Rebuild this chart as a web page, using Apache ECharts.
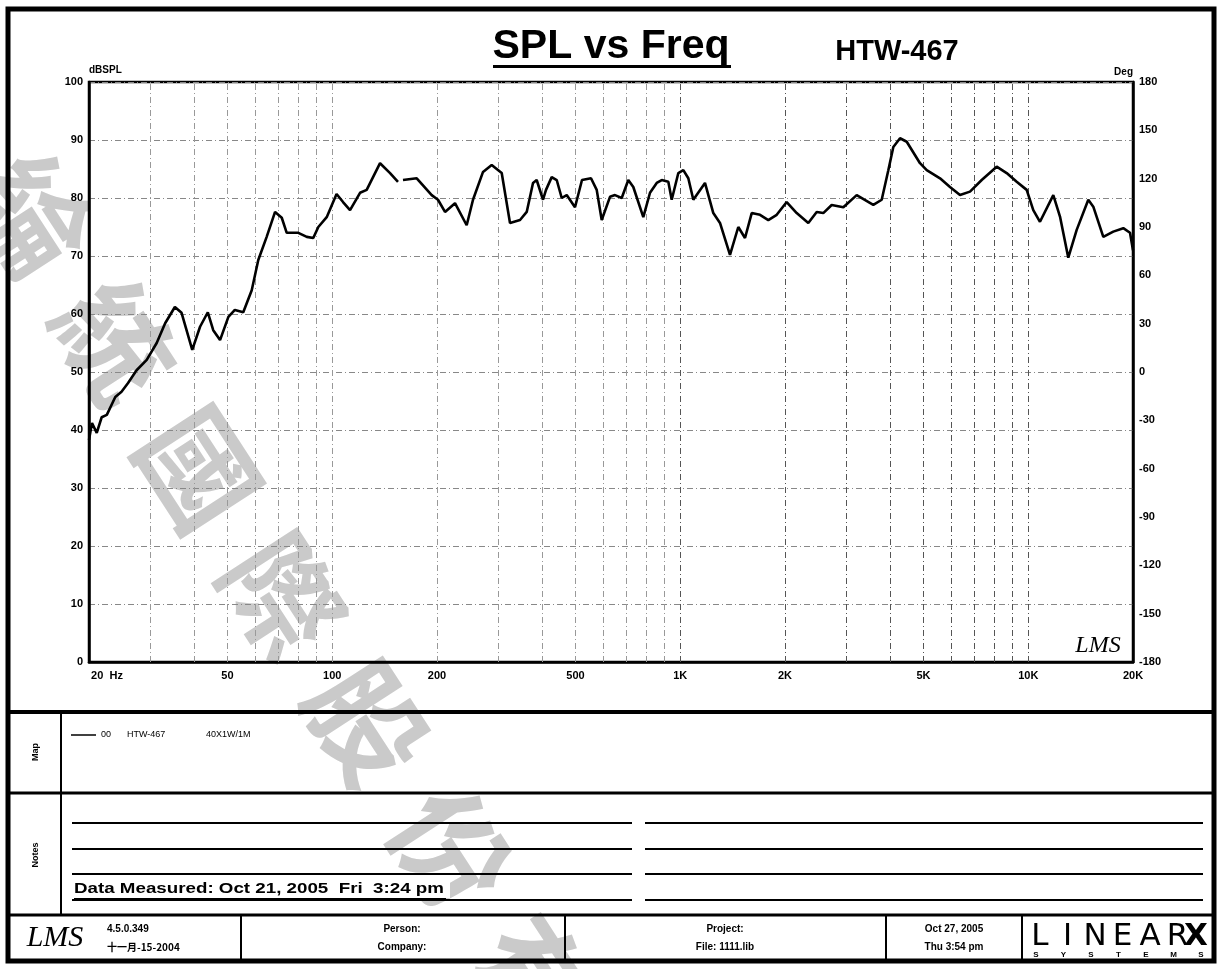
<!DOCTYPE html>
<html><head><meta charset="utf-8">
<script src="https://cdn.jsdelivr.net/npm/echarts@6/dist/echarts.min.js"></script>
<style>html,body{margin:0;padding:0;background:#fff}#c{width:1221px;height:969px}</style>
</head><body><div id="c"></div>
<script>
// ---- data ----
const freqHz = [20, 20.4, 21.05, 21.75, 22.5, 23.8, 24.8, 25.9, 27.4, 29.3,
  31.3, 33.1, 35.3, 36.9, 39.6, 41.7, 43.9, 45.5, 47.6, 50.3,
  52.5, 55.5, 58.7, 61.3, 64.8, 68.5, 71.6, 74.0, 79.9, 84.5,
  88.2, 91.2, 96.4, 102.9, 107.4, 112.5, 120.2, 125.6, 137.2, 146.6,
  154.5, 157, 159.7, 174.9, 193.1, 201.3, 210.9, 225.3, 243.4, 253.8,
  271.2, 287.2, 306.9, 324.2, 346.4, 362.1, 377.5, 386.8, 403.3, 411.4,
  427.2, 441.6, 456.5, 471.8, 498.4, 522, 554.1, 575.4, 594.7, 628.3,
  649.4, 678.9, 709.2, 733, 783.2, 818.7, 855.9, 884.7, 924.1, 945.2,
  987.4, 1020.6, 1054.9, 1090.4, 1177.9, 1244.5, 1300.9, 1389.9, 1468.3, 1535,
  1604.6, 1695.2, 1790.8, 1893.2, 2022.6, 2161, 2333.4, 2466.6, 2576.6, 2723.8,
  2942.2, 3213.8, 3587.6, 3792.6, 3962.2, 4095.6, 4281.4, 4475.4, 4886.4, 5108,
  5577.6, 5958.6, 6366, 6801.4, 7349.8, 8115.2, 8670.2, 9263.6, 9897.8, 10339.6,
  10808, 11803, 12338, 13034, 13779, 14879, 15379, 16431, 17555, 18755,
  19607, 20000];
const splDb = [38.3, 41.2, 39.5, 42.2, 42.6, 45.7, 46.6, 48.1, 50.3, 52.1,
  55.0, 58.4, 61.2, 60.2, 53.8, 57.8, 60.3, 57.2, 55.5, 59.5,
  60.7, 60.3, 64.1, 69.3, 73.3, 77.6, 76.6, 74.0, 74.0, 73.3,
  73.1, 75.0, 76.7, 80.7, 79.3, 77.9, 80.9, 81.4, 86.0, 84.3,
  82.8, null, 83.1, 83.4, 80.5, 79.7, 77.6, 79.1, 75.3, 79.7,
  84.5, 85.7, 84.3, 75.7, 76.2, 77.6, 82.6, 83.1, 79.7, 81.4,
  83.6, 83.1, 80.0, 80.5, 78.4, 83.1, 83.4, 81.4, 76.2, 80.2,
  80.5, 80.0, 83.1, 81.9, 76.7, 80.9, 82.6, 83.1, 82.8, 79.7,
  84.3, 84.8, 83.4, 79.7, 82.6, 77.4, 75.7, 70.2, 75.0, 73.1,
  77.4, 77.1, 76.2, 77.1, 79.3, 77.4, 75.7, 77.6, 77.4, 78.8,
  78.4, 80.5, 78.8, 79.7, 84.8, 88.8, 90.3, 89.7, 86.0, 84.8,
  83.4, 81.9, 80.5, 81.1, 83.1, 85.4, 84.3, 82.8, 81.4, 77.9,
  75.9, 80.5, 76.8, 69.7, 74.5, 79.7, 78.5, 73.3, 74.2, 74.8,
  74.0, 71.0];
const xTickValues = [20, 50, 100, 200, 500, 1000, 2000, 5000, 10000, 20000];
const xTickLabels = ['20 Hz', '50', '100', '200', '500', '1K', '2K', '5K', '10K', '20K'];
const xGridValues = [30, 40, 50, 60, 70, 80, 90, 100, 200, 300, 400, 500, 600, 700, 800, 900,
  1000, 2000, 3000, 4000, 5000, 6000, 7000, 8000, 9000, 10000];
const splMin = 0, splMax = 100, splStep = 10;
const degMin = -180, degMax = 180, degStep = 30;
const watermarkChars = ['綸', '統', '國', '際', '股', '份', '有', '限', '公', '司'];

// ---- rendering ----
const FONT = "'Liberation Sans', Arial, sans-serif";
const chart = echarts.init(document.getElementById('c'), null, { renderer: 'canvas' });

function fmtX(v) {
  let best = 0, bd = Infinity;
  xTickValues.forEach((t, i) => { const d = Math.abs(Math.log10(v) - Math.log10(t)); if (d < bd) { bd = d; best = i; } });
  const s = xTickLabels[best];
  return best === 0 ? '{p| }' + '20  Hz' : s;
}

const G = [];
function ln(x1, y1, x2, y2, w) {
  G.push({ type: 'line', silent: true, z: 20, shape: { x1, y1, x2, y2 }, style: { stroke: '#000', lineWidth: w } });
}
function tx(x, y, str, size, opts) {
  G.push(Object.assign({ type: 'text', silent: true, z: 20, x, y,
    style: Object.assign({ text: str, fill: '#000', fontSize: size, fontFamily: FONT, fontWeight: 'bold',
      textAlign: 'left', textVerticalAlign: 'middle' }, (opts && opts.style) || {}) }, (opts && opts.el) || {}));
}

// watermark (diagonal text, rotated clockwise)
watermarkChars.forEach((ch, i) => {
  G.push({ type: 'text', silent: true, z: -10, x: 31 + i * 84, y: 215 + i * 127, rotation: -57 * Math.PI / 180,
    style: { text: ch, fill: '#cacaca', fontSize: 115, fontWeight: 'bold', fontFamily: "'Noto Sans CJK TC', sans-serif",
      textAlign: 'center', textVerticalAlign: 'middle' } });
});

// frame
G.push({ type: 'rect', silent: true, z: 20, shape: { x: 8, y: 9, width: 1206, height: 952 }, style: { fill: 'none', stroke: '#000', lineWidth: 5 } });
ln(8, 712, 1214, 712, 4);
ln(8, 793, 1214, 793, 3);
ln(8, 915, 1214, 915, 3);
ln(61, 712, 61, 915, 2);
[241, 565, 886, 1022].forEach(x => ln(x, 915, x, 961, 2));

// titles
tx(611, 47, 'SPL vs Freq', 41, { style: { textAlign: 'center' } });
G.push({ type: 'rect', silent: true, z: 20, shape: { x: 493, y: 65, width: 238, height: 3 }, style: { fill: '#000' } });
tx(897, 52, 'HTW-467', 29, { style: { textAlign: 'center' } });

// plot corner logo
tx(1098, 646, 'LMS', 24, { style: { textAlign: 'center', fontStyle: 'italic', fontWeight: 'normal', fontFamily: "'Liberation Serif', serif" } });

// map panel
tx(36, 752, 'Map', 9, { el: { rotation: Math.PI / 2 }, style: { textAlign: 'center' } });
ln(71, 735, 96, 735, 1.5);
tx(101, 735, '00', 9, { style: { fontWeight: 'normal' } });
tx(127, 735, 'HTW-467', 9, { style: { fontWeight: 'normal' } });
tx(206, 735, '40X1W/1M', 9, { style: { fontWeight: 'normal' } });

// notes panel
tx(36, 855, 'Notes', 9, { el: { rotation: Math.PI / 2 }, style: { textAlign: 'center' } });
[823, 849, 874, 900].forEach(y => { ln(72, y, 632, y, 2); ln(645, y, 1203, y, 2); });
G.push({ type: 'rect', silent: true, z: 21, shape: { x: 70, y: 880, width: 380, height: 18 }, style: { fill: '#fff' } });
tx(74, 889, 'Data Measured: Oct 21, 2005  Fri  3:24 pm', 15, { el: { z: 22, scaleX: 1.25 }, style: { fontWeight: 900 } });
G.push({ type: 'rect', silent: true, z: 22, shape: { x: 74, y: 898, width: 372, height: 2 }, style: { fill: '#000' } });

// footer
tx(55, 938, 'LMS', 30, { style: { textAlign: 'center', fontStyle: 'italic', fontWeight: 'normal', fontFamily: "'Liberation Serif', serif" } });
tx(107, 929, '4.5.0.349', 10);
tx(107, 947, '十一月-15-2004', 10, { style: { fontFamily: "'Noto Sans CJK TC', " + FONT } });
tx(402, 929, 'Person:', 10, { style: { textAlign: 'center' } });
tx(402, 947, 'Company:', 10, { style: { textAlign: 'center' } });
tx(725, 929, 'Project:', 10, { style: { textAlign: 'center' } });
tx(725, 947, 'File: 1111.lib', 10, { style: { textAlign: 'center' } });
tx(954, 929, 'Oct 27, 2005', 10, { style: { textAlign: 'center' } });
tx(954, 947, 'Thu 3:54 pm', 10, { style: { textAlign: 'center' } });
'LINEAR'.split('').forEach((c, i) => tx(1040 + i * 27.5, 937, c, 31, { style: { textAlign: 'center', fontWeight: 'normal', fontFamily: "'DejaVu Sans', sans-serif" } }));
tx(1196, 937, 'X', 31, { style: { textAlign: 'center', fontWeight: 'bold', fontFamily: "'DejaVu Sans', sans-serif" } });
'SYSTEMS'.split('').forEach((c, i) => tx(1036 + i * 27.5, 955, c, 8, { style: { textAlign: 'center' } }));

const option = {
  animation: false,
  backgroundColor: '#fff',
  textStyle: { fontFamily: FONT },
  grid: { left: 89, top: 82, right: 88, bottom: 307, show: true, borderColor: '#000', borderWidth: 2.5, backgroundColor: 'transparent' },
  xAxis: {
    type: 'log', logBase: 10, min: 20, max: 20000,
    axisLine: { show: true, onZero: false, lineStyle: { color: '#000', width: 2.5 } },
    axisTick: { show: false },
    splitLine: { show: false },
    axisLabel: { customValues: xTickValues, formatter: fmtX, color: '#000', fontWeight: 'bold', fontSize: 11,
      fontFamily: FONT, margin: 8, hideOverlap: false, showMinLabel: true, showMaxLabel: true,
      rich: { p: { width: 36 } } }
  },
  yAxis: [{
    type: 'value', min: splMin, max: splMax, interval: splStep, position: 'left',
    name: 'dBSPL', nameLocation: 'end', nameGap: 7,
    nameTextStyle: { align: 'left', fontSize: 10, fontWeight: 'bold', color: '#000', fontFamily: FONT },
    axisLine: { show: true, lineStyle: { color: '#000', width: 2.5 } },
    axisTick: { show: false },
    axisLabel: { color: '#000', fontWeight: 'bold', fontSize: 11, margin: 6, fontFamily: FONT },
    splitLine: { show: true, lineStyle: { color: '#888', type: [6, 3, 1, 3], width: 1 } }
  }, {
    type: 'value', min: degMin, max: degMax, interval: degStep, position: 'right',
    name: 'Deg', nameLocation: 'end', nameGap: 5,
    nameTextStyle: { align: 'right', fontSize: 10, fontWeight: 'bold', color: '#000', fontFamily: FONT },
    axisLine: { show: true, lineStyle: { color: '#000', width: 2.5 } },
    axisTick: { show: false },
    axisLabel: { color: '#000', fontWeight: 'bold', fontSize: 11, margin: 6, fontFamily: FONT },
    splitLine: { show: false }
  }],
  series: [{
    type: 'line', name: 'grid', data: [], silent: true, z: 1,
    markLine: { silent: true, symbol: ['none', 'none'], label: { show: false }, animation: false,
      lineStyle: { color: '#888', type: [6, 3, 1, 3], width: 1 },
      data: xGridValues.map(v => ({ xAxis: v, lineStyle: { color: v >= 1000 ? '#555' : '#999' } })) }
  }, {
    type: 'line', name: '00 HTW-467', yAxisIndex: 0,
    data: freqHz.map((f, i) => [f, splDb[i] === null ? '-' : splDb[i]]),
    showSymbol: false, symbol: 'none', connectNulls: false, z: 5,
    lineStyle: { color: '#000', width: 2.6 }, itemStyle: { color: '#000' }
  }],
  graphic: { elements: G }
};
chart.setOption(option);
</script>
</body></html>
